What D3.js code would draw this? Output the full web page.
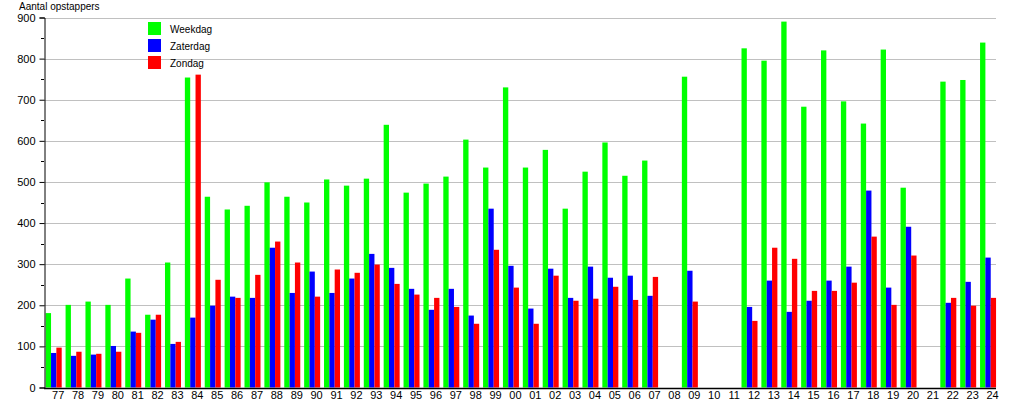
<!DOCTYPE html>
<html>
<head>
<meta charset="utf-8">
<script src="https://cdn.jsdelivr.net/npm/d3@7"></script>
<style>
  html, body { margin: 0; padding: 0; background: #fff; }
  svg { display: block; }
  text { font-family: "Liberation Sans", Arial, sans-serif; font-size: 10px; fill: #000; }
</style>
</head>
<body>
<svg id="chart" width="1015" height="400"></svg>
<script>
const years = ["77","78","79","80","81","82","83","84","85","86","87","88","89","90","91","92","93","94","95","96","97","98","99",
               "00","01","02","03","04","05","06","07","08","09","10","11","12","13","14","15","16","17","18","19","20","21","22","23","24"];
const weekdag = [181,201,209,201,265,177,304,754,464,433,442,499,464,450,506,491,508,639,474,496,513,603,535,
                 730,535,578,435,525,596,515,552,null,756,null,null,825,795,890,683,820,696,642,822,486,null,744,748,839];
const zaterdag = [84,77,80,101,136,165,106,170,199,221,218,340,230,282,230,265,325,291,240,189,240,175,435,
                  296,192,289,218,294,267,272,223,null,284,null,null,196,260,184,211,260,294,479,243,391,null,206,257,316];
const zondag = [97,87,82,87,133,177,111,761,262,218,274,355,304,221,287,279,299,252,226,218,196,155,335,
                243,155,272,211,216,245,213,269,null,209,null,null,162,340,313,235,235,255,367,201,321,null,218,199,218];
const seriesNames = ["Weekdag","Zaterdag","Zondag"];
const seriesColors = ["#00ff00","#0000ff","#ff0000"];
const yTicks = [0,100,200,300,400,500,600,700,800,900];
const yTitle = "Aantal opstappers";

const svg = d3.select("#chart");
const axisX0 = 44, axisX1 = 996;
const y = d3.scaleLinear().domain([0, 900]).range([387.5, 17.5]);
const x = d3.scaleBand().domain(years).range([45.7, 45.7 + 19.88 * years.length]).paddingInner(0).paddingOuter(0);
const sub = d3.scaleBand().domain(seriesNames).range([0, 16]);

// gridlines
svg.append("g").selectAll("line").data(yTicks.filter(d => d > 0)).join("line")
  .attr("x1", axisX0).attr("x2", axisX1)
  .attr("y1", d => Math.round(y(d)) + 0.5).attr("y2", d => Math.round(y(d)) + 0.5)
  .attr("stroke", "#c0c0c0").attr("stroke-width", 1);

// bars
const all = [weekdag, zaterdag, zondag];
all.forEach((vals, si) => {
  svg.append("g").selectAll("rect")
    .data(years.map((yr, i) => ({yr, v: vals[i]})).filter(d => d.v != null))
    .join("rect")
    .attr("x", d => x(d.yr) + sub(seriesNames[si]))
    .attr("width", sub.bandwidth())
    .attr("y", d => y(d.v))
    .attr("height", d => y(0) - y(d.v))
    .attr("fill", seriesColors[si]);
});

// y axis
const yAxis = d3.axisLeft(y).tickValues(yTicks).tickSize(5).tickPadding(4);
const gy = svg.append("g").attr("transform", `translate(${axisX0 + 0.5},0)`).call(yAxis);
gy.select(".domain").attr("stroke", "#000");
gy.selectAll(".tick line").attr("stroke", "#000");
gy.selectAll(".tick text").style("font-family", "Liberation Sans, Arial, sans-serif").style("font-size", "11px").attr("fill", "#000");
// minor ticks
const minor = d3.range(50, 900, 100);
svg.append("g").selectAll("line").data(minor).join("line")
  .attr("x1", axisX0 - 3).attr("x2", axisX0)
  .attr("y1", d => Math.round(y(d)) + 0.5).attr("y2", d => Math.round(y(d)) + 0.5)
  .attr("stroke", "#000");

// x axis
svg.append("line").attr("x1", axisX0).attr("x2", axisX1)
  .attr("y1", Math.round(y(0)) + 0.5).attr("y2", Math.round(y(0)) + 0.5)
  .attr("stroke", "#000").attr("stroke-width", 1.5);
svg.append("g").selectAll("text").data(years).join("text")
  .attr("x", d => x(d) + 12.5)
  .attr("y", 398.5)
  .attr("text-anchor", "middle")
  .style("font-size", "11px")
  .text(d => d);

// title
svg.append("text").attr("x", 19).attr("y", 9.5).text(yTitle);

// legend
const lg = svg.append("g");
seriesNames.forEach((n, i) => {
  lg.append("rect").attr("x", 148).attr("y", 22 + i * 17).attr("width", 13).attr("height", 13).attr("fill", seriesColors[i]);
  lg.append("text").attr("x", 170).attr("y", 32.5 + i * 17).text(n);
});
</script>
</body>
</html>
